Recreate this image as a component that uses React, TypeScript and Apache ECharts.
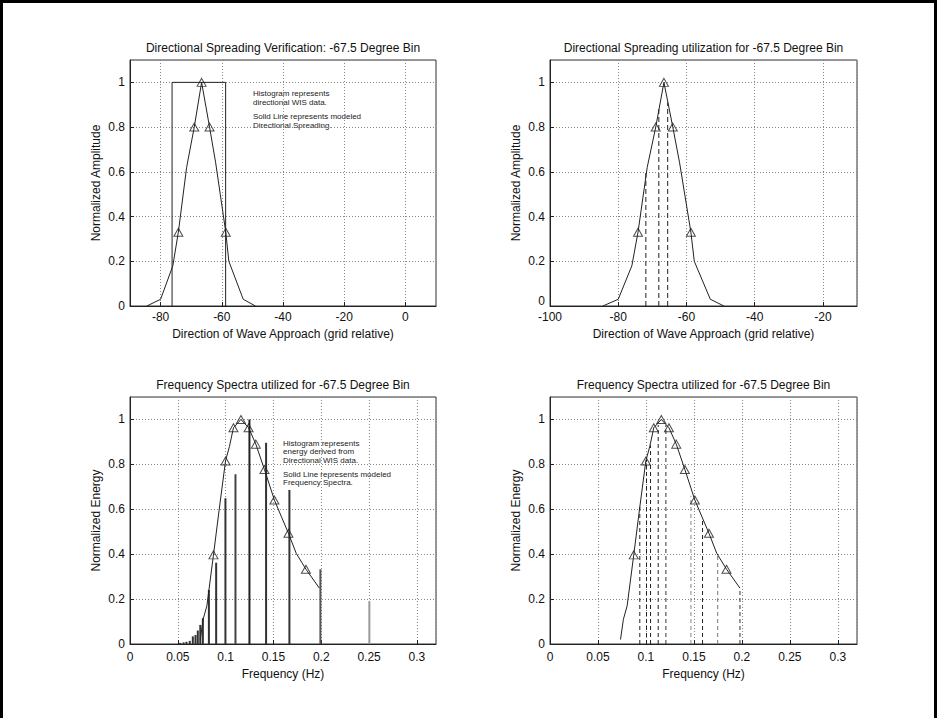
import React, { useEffect, useRef } from "react";
import * as echarts from "echarts";

const FONT = '"Liberation Sans", Arial, Helvetica, sans-serif';

// ---- Directional spreading (top plots) ----
const dirX = [-84.5, -80, -76, -74.2, -71.5, -69, -66.6, -64, -62, -58.7, -57.7, -53, -49];
const dirY = [0, 0.03, 0.18, 0.33, 0.62, 0.8, 1.0, 0.8, 0.64, 0.33, 0.2, 0.03, 0];
const dirMarkX = [-74.2, -69, -66.6, -64, -58.7];
const dirMarkY = [0.33, 0.8, 1.0, 0.8, 0.33];
const dirHistEdges = [-76.25, -58.75];
const dirHistHeight = 1.0;
const dirDashX = [-71.9, -68.1, -65.5];
const dirDashH = [0.6, 0.88, 0.91];
const dirTicksLeft = [-80, -60, -40, -20, 0];

// ---- Frequency spectra (bottom plots) ----
const freqX = [0.0735, 0.0765, 0.0804, 0.0873, 0.0936, 0.0999, 0.104, 0.1082, 0.116, 0.124, 0.1316, 0.1406, 0.151, 0.1657, 0.1738, 0.184, 0.198];
const freqY = [0.02, 0.11, 0.17, 0.397, 0.61, 0.815, 0.88, 0.963, 1.0, 0.963, 0.89, 0.777, 0.641, 0.493, 0.404, 0.333, 0.249];
const freqMarkX = [0.0873, 0.0999, 0.1082, 0.116, 0.124, 0.1316, 0.1406, 0.151, 0.1657, 0.184];
const freqMarkY = [0.397, 0.815, 0.963, 1.0, 0.963, 0.89, 0.777, 0.641, 0.493, 0.333];
const freqBarX = [0.0525, 0.056, 0.059, 0.0625, 0.0657, 0.0685, 0.0709, 0.0735, 0.0762, 0.0825, 0.0901, 0.0998, 0.1103, 0.1249, 0.1423, 0.1667, 0.1991, 0.2503];
const freqBarH = [0.005, 0.007, 0.01, 0.014, 0.034, 0.04, 0.06, 0.085, 0.115, 0.241, 0.362, 0.649, 0.756, 1.0, 0.896, 0.686, 0.333, 0.19];
const freqDashX = [0.0936, 0.1006, 0.1048, 0.1128, 0.1208, 0.1469, 0.159, 0.1748, 0.198];
const freqDashH = [0.61, 0.82, 0.885, 0.975, 0.975, 0.66, 0.56, 0.4, 0.249];

const titles = [
  "Directional Spreading Verification: -67.5 Degree Bin",
  "Directional Spreading utilization for -67.5 Degree Bin",
  "Frequency Spectra utilized for -67.5 Degree Bin",
  "Frequency Spectra utilized for -67.5 Degree Bin",
];
const xNames = [
  "Direction of Wave Approach (grid relative)",
  "Direction of Wave Approach (grid relative)",
  "Frequency (Hz)",
  "Frequency (Hz)",
];
const yNames = ["Normalized Amplitude", "Normalized Amplitude", "Normalized Energy", "Normalized Energy"];
const noteTop = ["Histogram represents", "directional WIS data.", "Solid Line represents modeled", "Directional Spreading."];
const noteBottom = ["Histogram represents", "energy derived from", "Directional WIS data.", "Solid Line represents modeled", "Frequency Spectra."];

// style-only arrays
const barTones = ["#333", "#333", "#333", "#333", "#333", "#333", "#333", "#333", "#333", "#333", "#333", "#333", "#444", "#222", "#333", "#333", "#555", "#999"];
const freqDashTones = ["#222", "#222", "#222", "#222", "#333", "#888", "#222", "#777", "#333"];

const zip = (xs: number[], ys: number[]) => xs.map((x, i) => [x, ys[i]]);

const grids = [
  { left: 130, top: 60, width: 306, height: 246 },
  { left: 550, top: 60, width: 307, height: 246 },
  { left: 130, top: 397, width: 306, height: 247 },
  { left: 550, top: 397, width: 307, height: 247 },
];

function axisBase() {
  return {
    type: "value" as const,
    axisLine: { show: true, onZero: false, lineStyle: { color: "#222", width: 1 } },
    axisTick: { show: true, inside: true, length: 4, lineStyle: { color: "#222" } },
    splitLine: { show: true, lineStyle: { color: "#888", type: [1, 2], width: 1 } },
    nameLocation: "middle" as const,
    nameTextStyle: { color: "#111", fontSize: 12, fontFamily: FONT },
  };
}

function lineSeries(i: number, xs: number[], ys: number[]) {
  return {
    type: "line",
    xAxisIndex: i,
    yAxisIndex: i,
    data: zip(xs, ys),
    symbol: "none",
    lineStyle: { color: "#222", width: 1 },
    silent: true,
    z: 3,
  };
}

function markerSeries(i: number, xs: number[], ys: number[]) {
  return {
    type: "scatter",
    xAxisIndex: i,
    yAxisIndex: i,
    data: zip(xs, ys),
    symbol: "triangle",
    symbolSize: [9, 8],
    itemStyle: { color: "rgba(255,255,255,0)", borderColor: "#222", borderWidth: 1 },
    silent: true,
    z: 5,
  };
}

function vlineSeries(i: number, xs: number[], hs: number[], tones: string[] | null, width: number, dash: number[] | null) {
  return {
    type: "custom",
    xAxisIndex: i,
    yAxisIndex: i,
    data: zip(xs, hs),
    encode: { x: 0, y: 1 },
    silent: true,
    z: 2,
    renderItem: (params: any, api: any) => {
      const x = api.value(0);
      const h = api.value(1);
      const p0 = api.coord([x, 0]);
      const p1 = api.coord([x, h]);
      const style: any = { stroke: tones ? tones[params.dataIndex] : "#222", lineWidth: width };
      if (dash) style.lineDash = dash;
      return { type: "line", shape: { x1: p0[0], y1: p0[1], x2: p1[0], y2: p1[1] }, style };
    },
  };
}

export default function App() {
  const ref = useRef<HTMLDivElement>(null);
  useEffect(() => {
    if (!ref.current) return;
    const chart = echarts.init(ref.current, undefined, { renderer: "svg" });

    const xAxes = [
      {
        ...axisBase(), gridIndex: 0, min: -90, max: 10, name: xNames[0], nameGap: 22,
        axisTick: { show: true, inside: true, length: 4, customValues: dirTicksLeft, lineStyle: { color: "#222" } },
        axisLabel: { customValues: dirTicksLeft, color: "#111", fontSize: 12, fontFamily: FONT, margin: 5 },
      },
      {
        ...axisBase(), gridIndex: 1, min: -100, max: -10, interval: 20, name: xNames[1], nameGap: 22,
        axisLabel: { color: "#111", fontSize: 12, fontFamily: FONT, margin: 5, showMaxLabel: false },
      },
      {
        ...axisBase(), gridIndex: 2, min: 0, max: 0.32, interval: 0.05, name: xNames[2], nameGap: 24,
        axisLabel: { color: "#111", fontSize: 12, fontFamily: FONT, margin: 7, showMaxLabel: false },
      },
      {
        ...axisBase(), gridIndex: 3, min: 0, max: 0.32, interval: 0.05, name: xNames[3], nameGap: 24,
        axisLabel: { color: "#111", fontSize: 12, fontFamily: FONT, margin: 7, showMaxLabel: false },
      },
    ];
    const yAxes = [0, 1, 2, 3].map((i) => ({
      ...axisBase(), gridIndex: i, min: 0, max: 1.1, interval: 0.2, name: yNames[i], nameGap: 28,
      axisLabel: {
        color: "#111", fontSize: 12, fontFamily: FONT, margin: 5, showMaxLabel: false,
        formatter: (v: number) => (i === 1 && v === 0 ? "{lift|0}" : String(Math.round(v * 10) / 10)),
        rich: { lift: { fontSize: 12, fontFamily: FONT, color: "#111", padding: [0, 0, 11, 0] } },
      },
    }));

    const graphics: any[] = [
      { type: "rect", shape: { x: 1.5, y: 1.5, width: 934, height: 740 }, style: { fill: "none", stroke: "#000", lineWidth: 3 }, silent: true },
    ];
    grids.forEach((g, i) => {
      graphics.push({
        type: "text",
        x: g.left + g.width / 2,
        y: i < 2 ? 48 : 385,
        style: { text: titles[i], fontSize: 12, fontFamily: FONT, fill: "#111", textAlign: "center", textVerticalAlign: "middle" },
        silent: true,
      });
    });
    const topNoteY = [93, 102, 116, 125];
    noteTop.forEach((t, k) => {
      graphics.push({ type: "text", x: 253, y: topNoteY[k], style: { text: t, fontSize: 8, fontFamily: FONT, fill: "#222", textAlign: "left", textVerticalAlign: "middle" }, silent: true });
    });
    const botNoteY = [443, 451.5, 460, 474, 482.5];
    noteBottom.forEach((t, k) => {
      graphics.push({ type: "text", x: 283, y: botNoteY[k], style: { text: t, fontSize: 8, fontFamily: FONT, fill: "#222", textAlign: "left", textVerticalAlign: "middle" }, silent: true });
    });

    const histPts = [
      [dirHistEdges[0], 0], [dirHistEdges[0], dirHistHeight], [dirHistEdges[1], dirHistHeight], [dirHistEdges[1], 0],
    ];

    chart.setOption({
      animation: false,
      backgroundColor: "#fff",
      textStyle: { fontFamily: FONT },
      grid: grids.map((g) => ({ ...g, show: true, borderColor: "#333", borderWidth: 1, backgroundColor: "transparent" })),
      xAxis: xAxes,
      yAxis: yAxes,
      graphic: graphics,
      series: [
        // top-left
        { type: "line", xAxisIndex: 0, yAxisIndex: 0, data: histPts, symbol: "none", lineStyle: { color: "#222", width: 1 }, silent: true, z: 2 },
        lineSeries(0, dirX, dirY),
        markerSeries(0, dirMarkX, dirMarkY),
        // top-right
        lineSeries(1, dirX, dirY),
        markerSeries(1, dirMarkX, dirMarkY),
        vlineSeries(1, dirDashX, dirDashH, null, 1, [5, 3]),
        // bottom-left
        vlineSeries(2, freqBarX, freqBarH, barTones, 2, null),
        lineSeries(2, freqX, freqY),
        markerSeries(2, freqMarkX, freqMarkY),
        // bottom-right
        vlineSeries(3, freqDashX, freqDashH, freqDashTones, 1, [4, 3]),
        lineSeries(3, freqX, freqY),
        markerSeries(3, freqMarkX, freqMarkY),
      ],
    });
    return () => chart.dispose();
  }, []);
  return <div ref={ref} style={{ position: "absolute", left: 0, top: 0, width: 938, height: 718, background: "#fff" }} />;
}
